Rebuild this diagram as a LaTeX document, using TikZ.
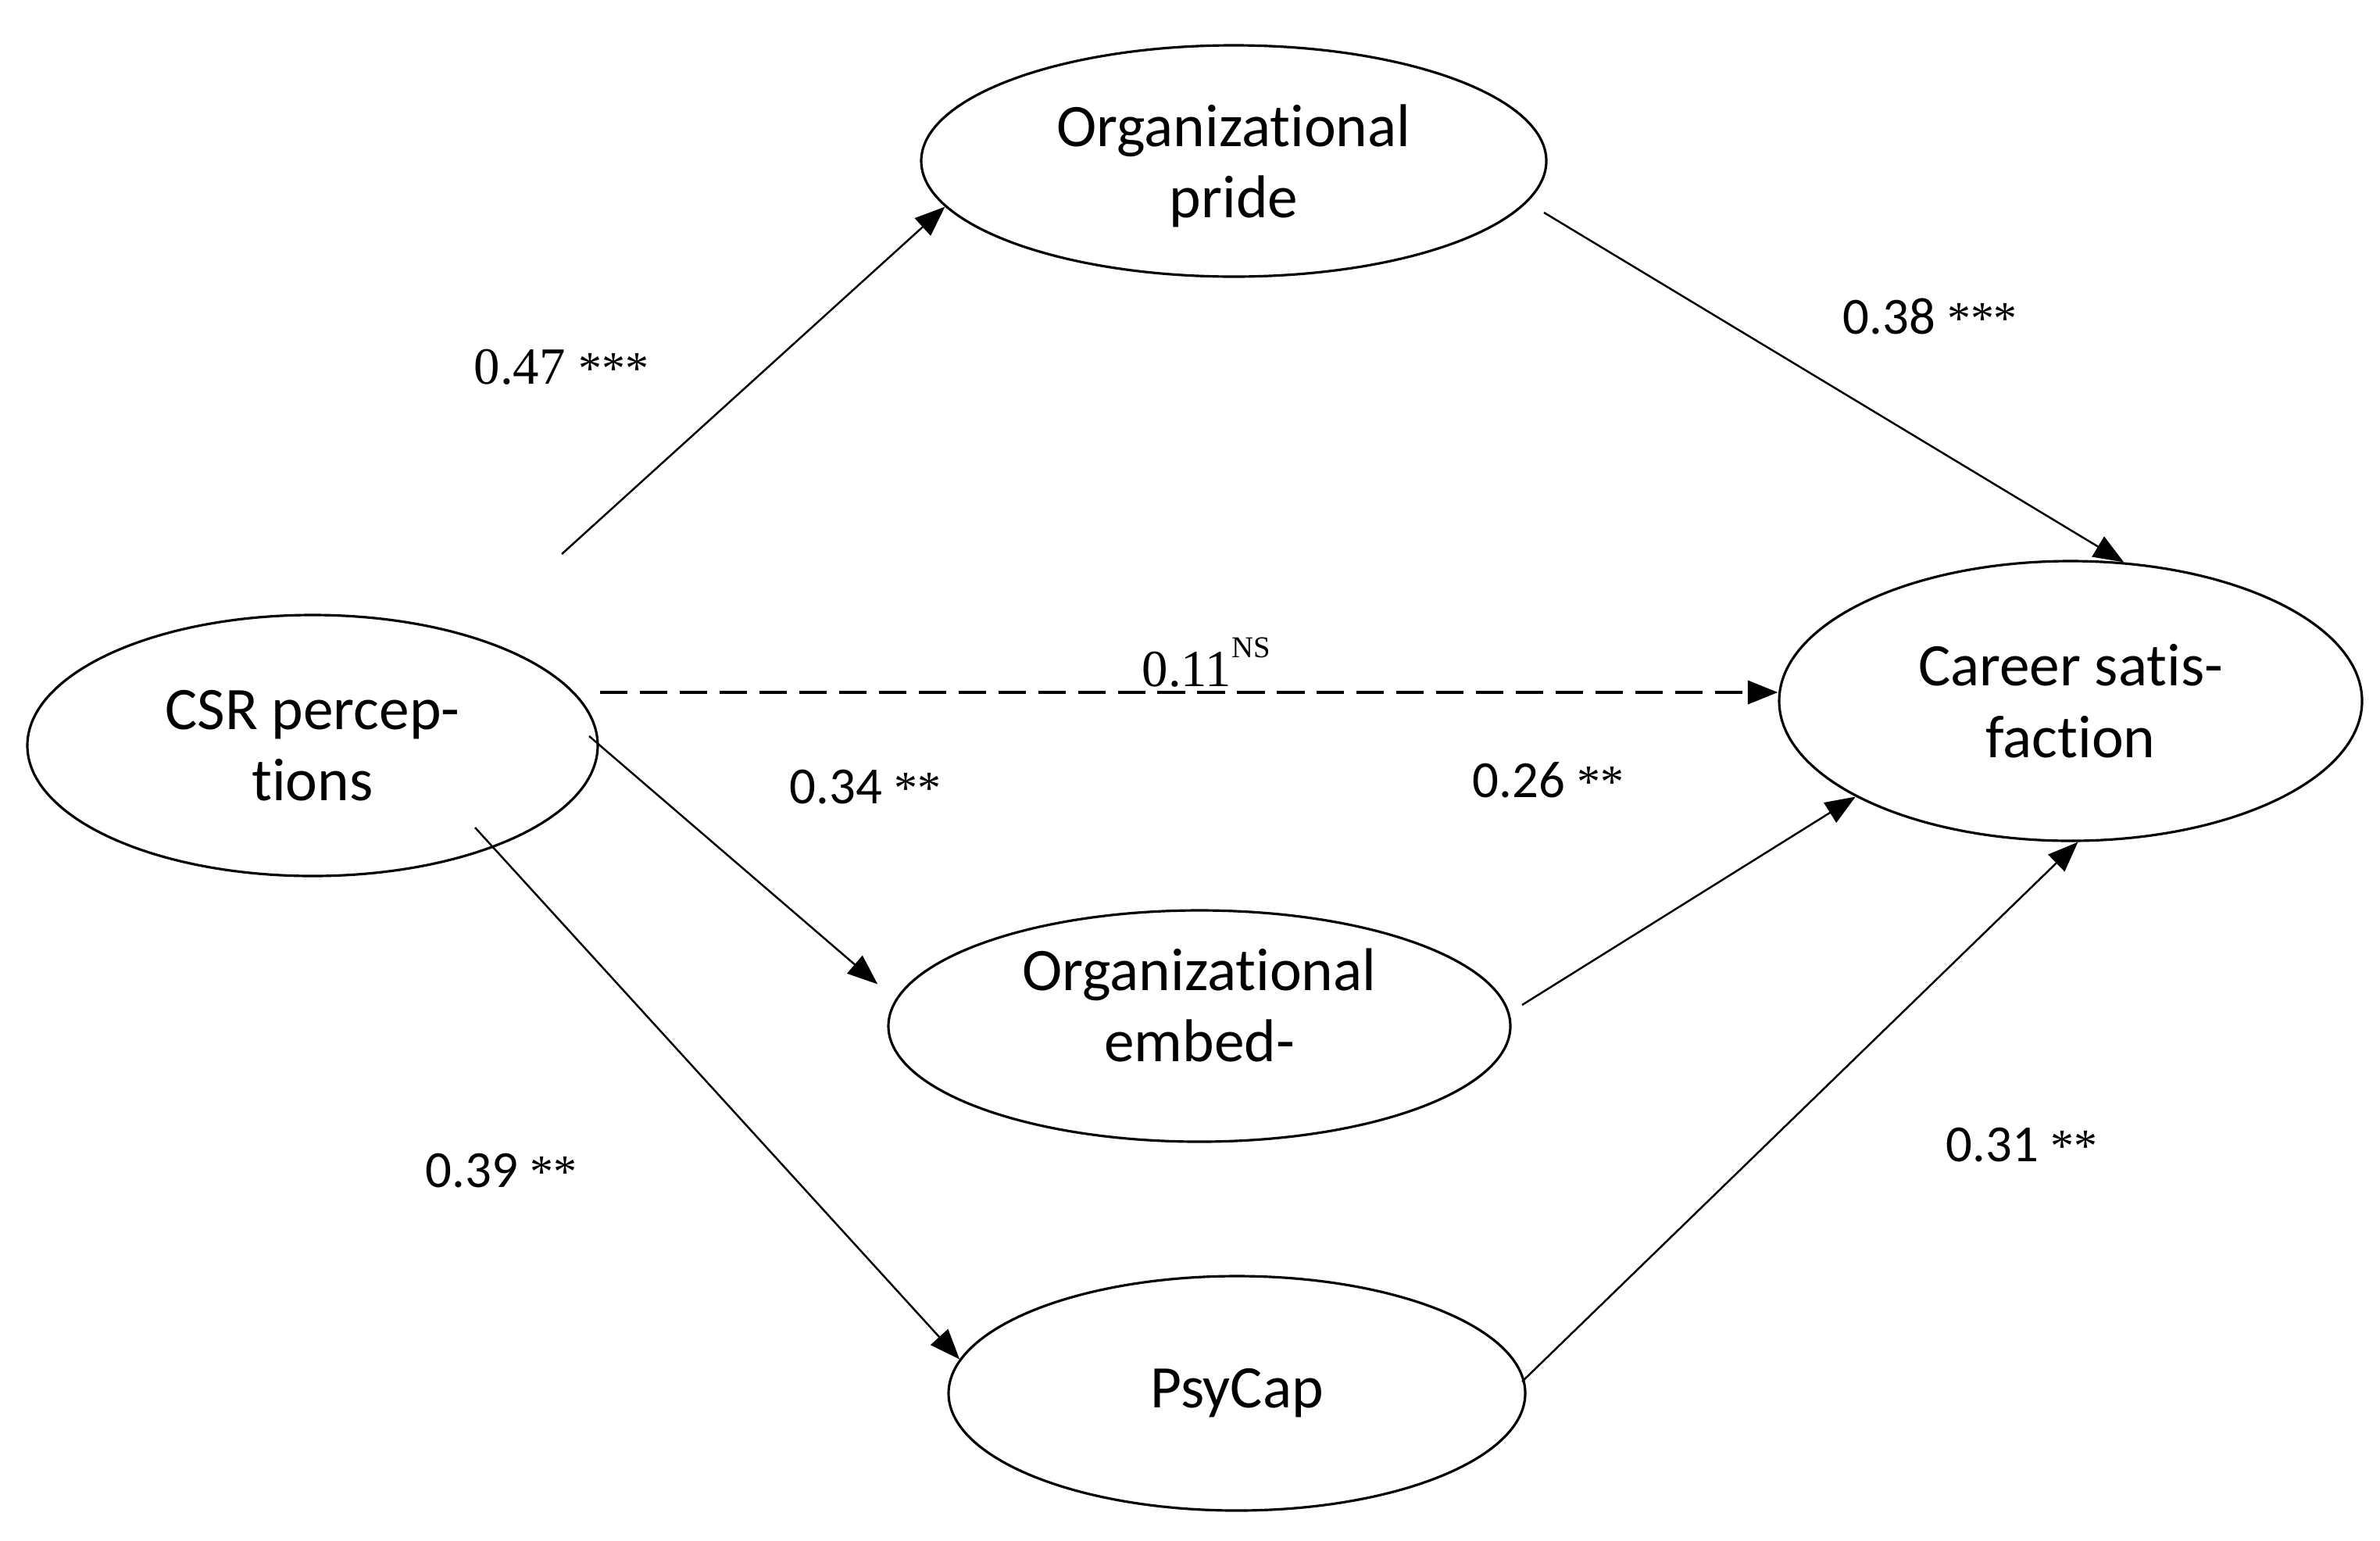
\documentclass[tikz,border=0pt]{standalone}
\usepackage{fontspec}
\setmainfont{Carlito}[Ligatures=NoCommon]
\newfontfamily\numserif{Liberation Serif}
\newcommand\sigstars[1]{{\numserif\fontsize{17}{18}\selectfont #1}}
\usetikzlibrary{shapes.geometric,arrows.meta}
\begin{document}
\begin{tikzpicture}[
  var/.style={draw, ellipse, line width=0.9pt, inner sep=0pt, align=center, font=\fontsize{22}{26}\selectfont},
  conn/.style={line width=0.7pt, -{Triangle[length=11pt,width=8.5pt]}},
  dconn/.style={line width=1.2pt, dash pattern=on 10pt off 4.5pt, -{Triangle[length=11pt,width=8.5pt]}},
  lblsans/.style={anchor=base west, inner sep=0pt, font=\fontsize{19}{22}\selectfont},
  lblserif/.style={anchor=base west, inner sep=0pt, font=\numserif\fontsize{19}{22}\selectfont},
]
\useasboundingbox (0,0) rectangle (30.46,-19.71);
\fill[white] (0,0) rectangle (30.46,-19.71);

% variables
\node[var, minimum width=8.0cm, minimum height=2.96cm] (pride) at (15.79,-2.06) {\raisebox{-0.27cm}[0pt][0pt]{\begin{tabular}{@{}c@{}}Organizational\\pride\end{tabular}}};
\node[var, minimum width=7.3cm, minimum height=3.34cm] (csr) at (4.00,-9.54) {CSR percep-\\tions};
\node[var, minimum width=7.46cm, minimum height=3.58cm] (career) at (26.50,-8.97) {Career satis-\\faction};
\node[var, minimum width=7.96cm, minimum height=2.96cm] (embed) at (15.35,-13.13) {\raisebox{0cm}[0pt][0pt]{\begin{tabular}{@{}c@{}}Organizational\\embed-\end{tabular}}};
\node[var, minimum width=7.38cm, minimum height=3.0cm] (psycap) at (15.83,-17.83) {PsyCap};

% free start points of connectors
\coordinate (s1) at (7.19,-7.09);
\coordinate (s2) at (19.76,-2.72);
\coordinate (s3) at (7.68,-8.86);
\coordinate (s4) at (7.54,-9.42);
\coordinate (s5) at (6.08,-10.59);
\coordinate (s6) at (19.48,-12.86);
\coordinate (s7) at (19.48,-17.68);

% connectors
\draw[conn] (s1) -- (pride.189);
\draw[conn] (s2) -- (career.69.8);
\draw[dconn] (s3) -- (s3 -| career.west);
\draw[conn, shorten >=0.3cm] (s4) -- (embed.175);
\draw[conn] (s5) -- (psycap.173.7);
\draw[conn] (s6) -- (career.204);
\draw[conn] (s7) -- (career.273.5);

% labels
\node[lblserif] (l47) at (6.06,-4.91) {0.47 \sigstars{***}};
\node[lblsans] (l38) at (23.58,-4.27) {0.38 \sigstars{***}};
\node[lblserif] (l11) at (14.61,-8.78) {0.11\raisebox{0.55em}{\fontsize{11}{12}\selectfont NS}};
\node[lblsans] (l34) at (10.10,-10.28) {0.34 \sigstars{**}};
\node[lblsans] (l26) at (18.84,-10.20) {0.26 \sigstars{**}};
\node[lblsans] (l39) at (5.44,-15.19) {0.39 \sigstars{**}};
\node[lblsans] (l31) at (24.90,-14.86) {0.31 \sigstars{**}};
\end{tikzpicture}
\end{document}
